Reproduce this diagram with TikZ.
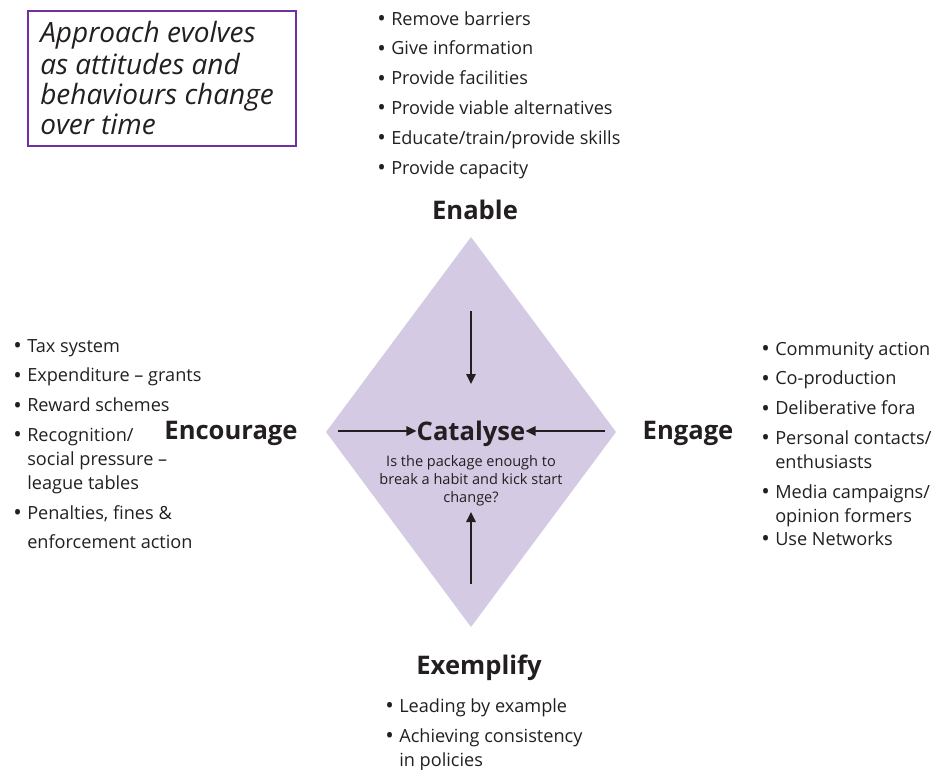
\documentclass[tikz,border=0pt]{standalone}
\usepackage{fontspec}
\setmainfont{Open Sans}
\usetikzlibrary{arrows.meta, positioning}
\definecolor{lilac}{RGB}{213,202,228}
\definecolor{plum}{RGB}{112,48,160}
\definecolor{ink}{RGB}{35,31,32}
\newcommand{\bl}{\makebox[10.5pt][l]{\raisebox{-0.9pt}{\fontsize{17}{18}\selectfont\textbullet}}}
\newcommand{\hang}{\hspace*{10.5pt}}

\begin{document}
\begin{tikzpicture}[
  x=0.75pt, y=-0.75pt,
  head/.style={font=\fontsize{19.2}{22}\selectfont\bfseries, text=ink, inner sep=0, anchor=base},
  blist/.style={font=\fontsize{13.6}{18}\selectfont, text=ink, align=left, anchor=north west, inner sep=0},
  note/.style={font=\fontsize{10.9}{13.6}\selectfont, text=ink, align=center, inner sep=0},
  frame/.style={font=\fontsize{21}{22.5}\selectfont\itshape, text=ink, align=left, inner sep=0, anchor=north west},
  push/.style={-{Triangle[length=7.5pt, width=7pt]}, line width=1.4pt, ink},
]
\useasboundingbox (0,0) rectangle (938,770);

% Diamond
\fill[lilac] (471,237) -- (616,432) -- (471,627) -- (326,432) -- cycle;

% Approach box
\draw[plum, line width=1.6pt] (28,11) rectangle (296,146);
\node[frame] (approach) at (40,21)
  {\strut Approach evolves\\as attitudes and\\behaviours change\\over time};

% Headings
\node[head] (enable) at (475,219) {Enable};
\node[head] (exemplify) at (479,674) {Exemplify};
\node[head] (encourage) at (231,439) {Encourage};
\node[head] (engage) at (688,439) {Engage};
\node[head] (catalyse) at (471,440) {Catalyse};
\node[note] (question) at (471,481)
  {Is the package enough to\\break a habit and kick start\\change?};

% Bullet lists
\node[blist] (enablelist) at (377,8)
  {\strut\bl Remove barriers\\[4.4pt]
   \strut\bl Give information\\[4.4pt]
   \strut\bl Provide facilities\\[4.4pt]
   \strut\bl Provide viable alternatives\\[4.4pt]
   \strut\bl Educate/train/provide skills\\[4.4pt]
   \strut\bl Provide capacity};
\node[blist] (encouragelist) at (13,335)
  {\strut\bl Tax system\\[4.4pt]
   \strut\bl Expenditure -- grants\\[4.4pt]
   \strut\bl Reward schemes\\[4.4pt]
   \strut\bl Recognition/\\
   \strut\hang social pressure --\\
   \strut\hang league tables\\[4.4pt]
   \strut\bl Penalties, fines \&\\[3.6pt]
   \strut\hang enforcement action};
\node[blist] (engagelist) at (761,338)
  {\strut\bl Community action\\[4.4pt]
   \strut\bl Co-production\\[4.4pt]
   \strut\bl Deliberative fora\\[4.4pt]
   \strut\bl Personal contacts/\\
   \strut\hang enthusiasts\\[4.4pt]
   \strut\bl Media campaigns/\\
   \strut\hang opinion formers\\[-1pt]
   \strut\bl Use Networks};
\node[blist] (exemplifylist) at (385,695)
  {\strut\bl Leading by example\\[4.5pt]
   \strut\bl Achieving consistency\\
   \strut\hang in policies};

% Arrows into the hub
\coordinate (ntail) at (471,311);
\coordinate (nhead) at (471,384);
\coordinate (stail) at (471,584);
\coordinate (shead) at (471,512);
\coordinate (wtail) at (338,431);
\coordinate (etail) at (605,431);
\draw[push] (ntail) -- (nhead);
\draw[push] (stail) -- (shead);
\draw[push] (wtail) -- (catalyse.west |- wtail);
\draw[push] (etail) -- (catalyse.east |- etail);

\end{tikzpicture}
\end{document}
